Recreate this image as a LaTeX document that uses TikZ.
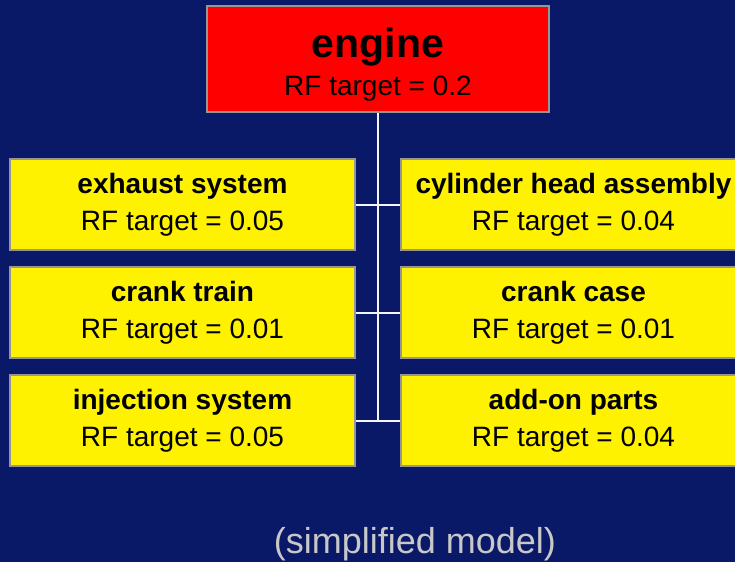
\documentclass[tikz,border=0pt]{standalone}
\usepackage{fontspec}
\setmainfont{Liberation Sans}

\definecolor{navy}{RGB}{10,24,104}
\definecolor{boxgray}{RGB}{150,150,150}
\definecolor{notegray}{RGB}{200,200,200}

\tikzset{
  part/.style={draw=boxgray,line width=1.5pt,fill=yellow,inner sep=0pt,
    minimum width=345pt,minimum height=91pt,align=center,
    font=\fontsize{28}{37}\selectfont},
  enginebox/.style={part,fill=red,minimum width=342pt,minimum height=106pt,
    font=\fontsize{28}{38}\selectfont},
  link/.style={draw=white!92!gray,line width=2pt}
}

\begin{document}
\begin{tikzpicture}[x=1pt,y=-1pt]

\fill[navy] (0,0) rectangle (735,562);
\useasboundingbox (0,0) rectangle (735,562);

\node[enginebox] (engine) at (378,59)
  {\rule{0pt}{41pt}\textbf{\fontsize{41}{38}\selectfont engine}\\RF target = 0.2};

\node[part] (exhaust)  at (182.5,204.5) {\textbf{exhaust system}\\RF target = 0.05};
\node[part] (crank)    at (182.5,312.5) {\textbf{crank train}\\RF target = 0.01};
\node[part] (inject)   at (182.5,420.5) {\textbf{injection system}\\RF target = 0.05};
\node[part] (cylinder) at (573.5,204.5) {\textbf{cylinder head assembly}\\RF target = 0.04};
\node[part] (case)     at (573.5,312.5) {\textbf{crank case}\\RF target = 0.01};
\node[part] (addon)    at (573.5,420.5) {\textbf{add-on parts}\\RF target = 0.04};

\coordinate (spine) at (engine.south |- inject.east);

\draw[link] (engine.south) -- (spine);
\draw[link] (exhaust.east) -- (cylinder.west);
\draw[link] (crank.east)   -- (case.west);
\draw[link] (inject.east)  -- (addon.west);

\node[text=notegray,font=\fontsize{36}{40}\selectfont] (note) at (415,544) {(simplified model)};

\end{tikzpicture}
\end{document}
